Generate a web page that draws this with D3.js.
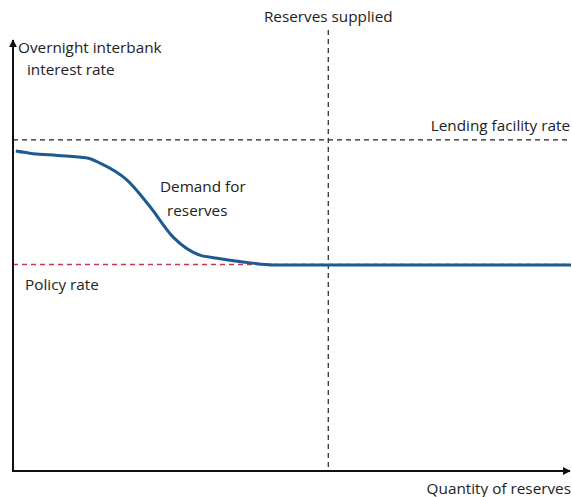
<!DOCTYPE html>
<html>
<head>
<meta charset="utf-8">
<script src="https://cdn.jsdelivr.net/npm/d3@7"></script>
<style>
    body { margin: 0; background: #fff; }
    text { font-family: "Open Sans", sans-serif; font-size: 15.3px; fill: #222; }
</style>
</head>
<body>
<div id="chart"></div>
<script>
// demand curve (quantity of reserves, overnight rate)
let demandQty  = [0.5, 3.6, 8, 13.3, 15.6, 20.4, 24.6, 28.7, 33.5, 36.6, 42.5, 46.6, 60, 80, 100];
let demandRate = [7.44, 7.38, 7.34, 7.28, 7.16, 6.77, 6.14, 5.44, 5.02, 4.95, 4.84, 4.79, 4.79, 4.79, 4.79];

let policyRate = 4.8;
let lendingRate = 7.7;
let reservesSupplied = 56.5;

let width = 572, height = 497;

let svg = d3.select("#chart").append("svg")
    .attr("width", width)
    .attr("height", height);

// scales
let x = d3.scaleLinear().domain([0, 100]).range([13, 571]);
let y = d3.scaleLinear().domain([0, 10]).range([471, 41]);

// arrow marker
svg.append("defs").append("marker")
    .attr("id", "arrow")
    .attr("viewBox", "0 0 10 10")
    .attr("refX", 9).attr("refY", 5)
    .attr("markerWidth", 4).attr("markerHeight", 4)
    .attr("orient", "auto")
    .append("path")
    .attr("d", "M0,0 L10,5 L0,10 z")
    .attr("fill", "#111");

// lending facility rate
svg.append("line")
    .attr("x1", x(0)).attr("x2", x(100))
    .attr("y1", y(lendingRate)).attr("y2", y(lendingRate))
    .attr("stroke", "#222").attr("stroke-width", 1.2)
    .attr("stroke-dasharray", "5,4");

// policy rate
svg.append("line")
    .attr("x1", x(0)).attr("x2", x(100))
    .attr("y1", y(policyRate)).attr("y2", y(policyRate))
    .attr("stroke", "#c0394f").attr("stroke-width", 1.5)
    .attr("stroke-dasharray", "5,4");

// reserves supplied
svg.append("line")
    .attr("x1", x(reservesSupplied)).attr("x2", x(reservesSupplied))
    .attr("y1", 30).attr("y2", y(0))
    .attr("stroke", "#222").attr("stroke-width", 1.2)
    .attr("stroke-dasharray", "5,4");

// demand curve
let line = d3.line()
    .x((d, i) => x(demandQty[i]))
    .y(d => y(d))
    .curve(d3.curveMonotoneX);

svg.append("path")
    .datum(demandRate)
    .attr("d", line)
    .attr("fill", "none")
    .attr("stroke", "#1d5a91")
    .attr("stroke-width", 3);

// axes
svg.append("line")
    .attr("x1", x(0)).attr("x2", x(0))
    .attr("y1", y(0)).attr("y2", y(10) - 1)
    .attr("stroke", "#111").attr("stroke-width", 2)
    .attr("marker-end", "url(#arrow)");

svg.append("line")
    .attr("x1", x(0) - 1).attr("x2", x(100) - 1)
    .attr("y1", y(0)).attr("y2", y(0))
    .attr("stroke", "#111").attr("stroke-width", 2)
    .attr("marker-end", "url(#arrow)");

// labels
svg.append("text").attr("x", 18).attr("y", 53).text("Overnight interbank");
svg.append("text").attr("x", 27).attr("y", 75).text("interest rate");
svg.append("text").attr("x", x(reservesSupplied)).attr("y", 22)
    .attr("text-anchor", "middle").text("Reserves supplied");
svg.append("text").attr("x", 570).attr("y", 131)
    .attr("text-anchor", "end").text("Lending facility rate");
svg.append("text").attr("x", 160).attr("y", 192).text("Demand for");
svg.append("text").attr("x", 167).attr("y", 216).text("reserves");
svg.append("text").attr("x", 25).attr("y", 290).text("Policy rate");
svg.append("text").attr("x", 571).attr("y", 494)
    .attr("text-anchor", "end").text("Quantity of reserves");
</script>
</body>
</html>
